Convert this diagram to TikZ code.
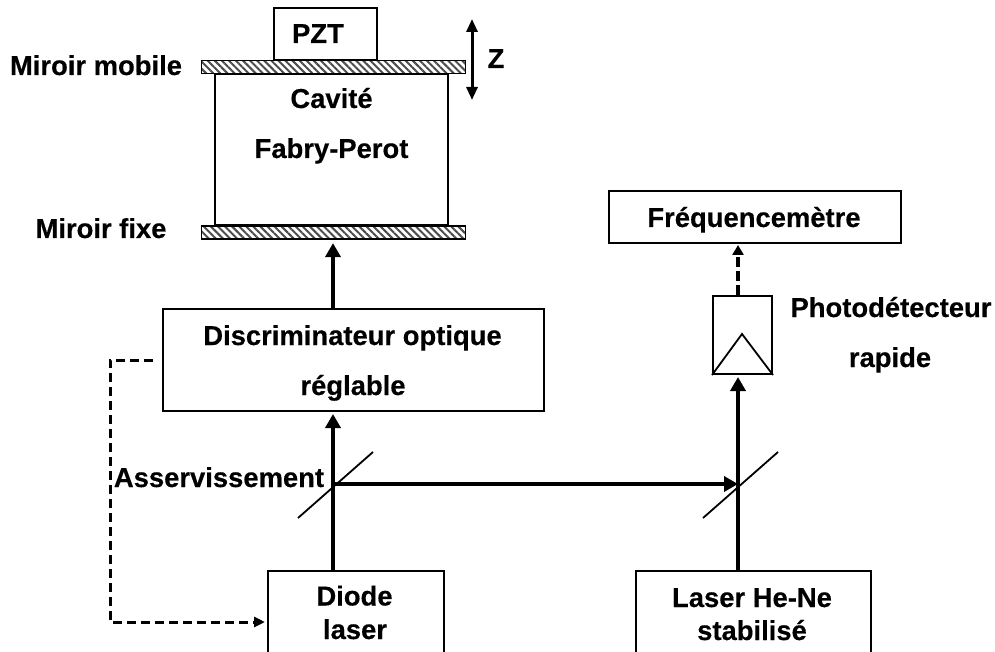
\documentclass[tikz,border=0pt]{standalone}
\usepackage{fontspec}
\setmainfont{Liberation Sans}[BoldFeatures={FakeBold=0.35}]
\usetikzlibrary{arrows.meta,patterns.meta,calc}
\tikzset{
  box/.style={draw=black,line width=2pt,fill=none,inner sep=0pt,anchor=north west},
  mirror/.style={draw=black,line width=1.6pt,inner sep=0pt,anchor=north west,
    minimum width=264pt,minimum height=13pt,
    pattern={Lines[angle=-45,distance=5pt,line width=2pt]},pattern color=black!70},
  lbl/.style={font=\fontsize{27.4}{30}\selectfont\bfseries,inner sep=0pt,text=black,anchor=base},
  beam/.style={line width=4pt,-{Triangle[length=14pt,width=15pt]}},
  dashbeam/.style={line width=3.6pt,dash pattern=on 10pt off 4pt,-{Triangle[length=10pt,width=11pt]}},
  dashthin/.style={line width=3pt,dash pattern=on 9pt off 5pt,-{Triangle[length=11pt,width=10pt]}},
  splitter/.style={line width=1.8pt},
}
\begin{document}
\begin{tikzpicture}[x=1pt,y=-1pt]
\useasboundingbox (0,0) rectangle (995,652);
\clip (0,0) rectangle (995,652);
% boxes
\node[box,minimum width=103pt,minimum height=52pt] (pzt) at (273,7) {};
\node[box,minimum width=233pt,minimum height=151pt] (cav) at (214,73) {};
\node[mirror] (mm) at (200.5,59.5) {};
\node[mirror] (mf) at (200.5,225.5) {};
\node[box,minimum width=381pt,minimum height=102pt] (disc) at (162,308) {};
\node[box,minimum width=292pt,minimum height=52pt] (freq) at (608,190) {};
\node[box,minimum width=59pt,minimum height=78pt] (pd) at (712,295) {};
\node[box,minimum width=176pt,minimum height=110pt] (diode) at (267,570) {};
\node[box,minimum width=235pt,minimum height=110pt] (hene) at (635,570) {};
% triangle inside the photodetector
\coordinate (apex) at (742,334);
\draw[line width=1.8pt] (pd.south west) -- (apex) -- (pd.south east);
% labels
\node[lbl] (t1) at (318,43) {PZT};
\node[lbl] (t2) at (496,68) {Z};
\node[lbl] (t3) at (96,75) {Miroir mobile};
\node[lbl] (t4) at (331.5,108) {Cavité};
\node[lbl] (t5) at (331.5,158) {Fabry-Perot};
\node[lbl] (t6) at (101,238) {Miroir fixe};
\node[lbl] (t7) at (754,227) {Fréquencemètre};
\node[lbl] (t8) at (891,317) {Photodétecteur};
\node[lbl] (t9) at (890,367) {rapide};
\node[lbl] (t10) at (352.5,345) {Discriminateur optique};
\node[lbl] (t11) at (353,395) {réglable};
\node[lbl] (t12) at (219,487) {Asservissement};
\node[lbl] (t13) at (354.5,605.5) {Diode};
\node[lbl] (t14) at (355,639) {laser};
\node[lbl] (t15) at (752,607) {Laser He-Ne};
\node[lbl] (t16) at (752,640) {stabilisé};
% z arrow
\coordinate (ztop) at (472,19);
\coordinate (zbot) at (472,100);
\draw[line width=3pt,{Triangle[length=13pt,width=11pt]}-{Triangle[length=13pt,width=11pt]}] (ztop) -- (zbot);
% splitters
\coordinate (s1) at (333,484);
\coordinate (s2) at (738,484);
\coordinate (s1a) at (298,518);
\coordinate (s1b) at (373,452);
\coordinate (s2a) at (703,518);
\coordinate (s2b) at (778,452);
\draw[splitter] (s1a) -- (s1b);
\draw[splitter] (s2a) -- (s2b);
% beams
\draw[beam,shorten >=2pt] (s1 |- diode.north) -- (s1 |- disc.south);
\draw[beam,shorten >=3pt] (s1 |- disc.north) -- (s1 |- mf.south);
\draw[beam] (s1) -- (s2);
\draw[beam,shorten >=2pt] (s2 |- hene.north) -- (s2 |- pd.south);
\draw[dashbeam,shorten >=1pt] (s2 |- pd.north) -- (s2 |- freq.south);
% servo
\coordinate (sa) at (153,360);
\coordinate (sb) at (110,360);
\coordinate (sc) at (110,622);
\coordinate (sd) at (265,622);
\draw[dashthin] (sa) -- (sb) -- (sc) -- (sd);
\end{tikzpicture}
\end{document}
